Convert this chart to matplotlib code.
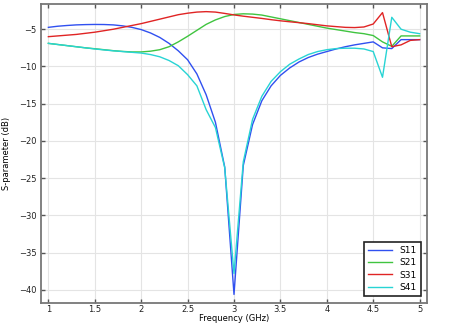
import numpy as np
import matplotlib
matplotlib.use("Agg")
import matplotlib.pyplot as plt

# frequency sweep, 0.1 GHz steps
freq = [1.0, 1.1, 1.2, 1.3, 1.4, 1.5, 1.6, 1.7, 1.8, 1.9,
        2.0, 2.1, 2.2, 2.3, 2.4, 2.5, 2.6, 2.7, 2.8, 2.9,
        3.0, 3.1, 3.2, 3.3, 3.4, 3.5, 3.6, 3.7, 3.8, 3.9,
        4.0, 4.1, 4.2, 4.3, 4.4, 4.5, 4.6, 4.7, 4.8, 4.9, 5.0]

s11 = [-4.75, -4.6, -4.5, -4.42, -4.38, -4.36, -4.37, -4.42, -4.55, -4.75,
       -5.05, -5.5, -6.1, -6.9, -7.9, -9.1, -11.0, -13.8, -17.5, -23.5,
       -40.6, -23.3, -17.8, -14.6, -12.6, -11.2, -10.2, -9.4, -8.8, -8.35,
       -8.0, -7.65, -7.35, -7.1, -6.9, -6.7, -7.5, -7.6, -6.4, -6.4, -6.4]

s21 = [-6.9, -7.05, -7.2, -7.35, -7.5, -7.62, -7.75, -7.88, -7.98, -8.05,
       -8.05, -7.95, -7.75, -7.35, -6.7, -5.95, -5.15, -4.35, -3.75, -3.3,
       -3.02, -2.93, -2.97, -3.1, -3.35, -3.6, -3.85, -4.1, -4.35, -4.6,
       -4.85, -5.05, -5.25, -5.45, -5.6, -5.85, -6.7, -7.3, -5.9, -5.9, -5.9]

s31 = [-6.0, -5.9, -5.8, -5.7, -5.55, -5.4, -5.2, -5.0, -4.75, -4.5,
       -4.25, -3.95, -3.65, -3.35, -3.05, -2.85, -2.7, -2.64, -2.7, -2.88,
       -3.08, -3.25, -3.4, -3.55, -3.72, -3.87, -4.0, -4.12, -4.25, -4.4,
       -4.55, -4.65, -4.75, -4.78, -4.7, -4.3, -2.77, -7.35, -7.1, -6.5, -6.4]

s41 = [-6.9, -7.05, -7.2, -7.35, -7.5, -7.65, -7.78, -7.9, -8.0, -8.1,
       -8.2, -8.4, -8.7, -9.2, -9.9, -11.1, -12.6, -15.8, -18.2, -23.6,
       -37.8, -22.8, -17.1, -14.0, -12.0, -10.7, -9.7, -9.0, -8.4, -8.0,
       -7.75, -7.6, -7.55, -7.55, -7.65, -8.0, -11.45, -3.4, -5.0, -5.4, -5.6]

labels = ["S11", "S21", "S31", "S41"]
colors = ["#3050f0", "#40c440", "#e02424", "#28d4d4"]


def main():
    fig = plt.figure(figsize=(4.5, 3.24), dpi=100)
    ax = fig.add_axes([0.091, 0.066, 0.858, 0.922])

    for y, lab, c in zip([s11, s21, s31, s41], labels, colors):
        ax.plot(freq, y, color=c, lw=1.0, label=lab)

    ax.set_xlim(0.92, 5.08)
    ax.set_ylim(-41.7, -1.6)
    ax.set_xticks(np.arange(1, 5.01, 0.5))
    ax.set_xticklabels(["1", "1.5", "2", "2.5", "3", "3.5", "4", "4.5", "5"])
    ax.set_yticks(np.arange(-40, -4, 5))
    ax.grid(True, color="#e4e4e4", lw=0.8)
    ax.set_axisbelow(True)

    ax.tick_params(direction="in", length=3, width=1, colors="#555555",
                   labelsize=6, labelcolor="#222222", top=True, right=True,
                   labeltop=False, labelright=False, pad=3)
    ax.tick_params(axis="x", pad=2)
    for s in ax.spines.values():
        s.set_color("#777777")
        s.set_linewidth(1.3)

    ax.set_xlabel("Frequency (GHz)", fontsize=6)
    ax.xaxis.set_label_coords(0.5, -0.039)
    ax.set_ylabel("S-parameter (dB)", fontsize=6, labelpad=6)

    leg = ax.legend(loc="lower right", fontsize=6.5, fancybox=False,
                    edgecolor="#222222", framealpha=1, handlelength=2.6,
                    borderpad=0.5, labelspacing=0.35, borderaxespad=0.7)
    leg.get_frame().set_linewidth(1.2)

    fig.savefig("out.png", dpi=100)


if __name__ == "__main__":
    main()
